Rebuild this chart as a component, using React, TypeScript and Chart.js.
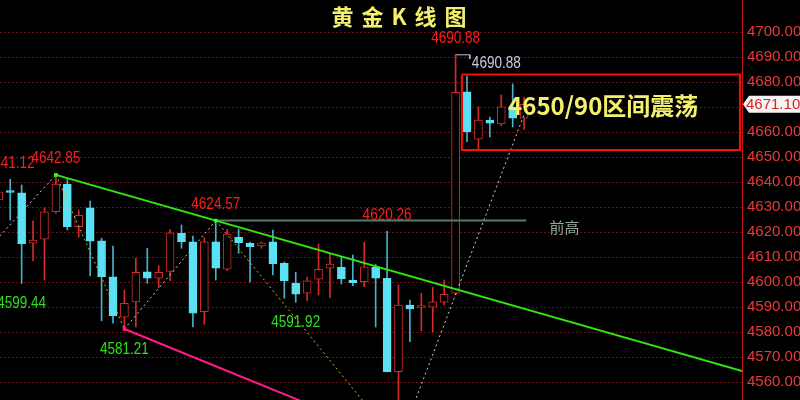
import React, { useEffect, useRef } from "react";
import { Chart, registerables } from "chart.js";

Chart.register(...registerables);

// Candles (one per bar, index = position on the time axis)
const opens = [
  4632.8, 4636.0, 4635.7, 4615.5, 4617.1, 4628.1, 4639.2, 4622.1, 4629.7, 4616.5,
  4602.1, 4585.9, 4592.0, 4604.1, 4601.5, 4604.2, 4619.5, 4616.1, 4588.1, 4616.1,
  4605.1, 4617.9, 4615.5, 4614.4, 4616.1, 4607.5, 4599.5, 4595.5, 4601.1, 4605.5,
  4605.9, 4600.8, 4600.1, 4605.9, 4601.5, 4564.1, 4590.8, 4589.8, 4589.9, 4591.9,
  4595.5, 4676.1, 4657.1, 4664.8, 4663.2, 4670.0, 4665.5,
];
const highs = [
  4638.0, 4641.12, 4638.8, 4624.5, 4629.7, 4642.85, 4641.0, 4628.8, 4632.4, 4617.5,
  4614.4, 4596.8, 4609.5, 4613.5, 4606.5, 4621.0, 4622.8, 4618.4, 4617.7, 4624.57,
  4621.1, 4621.2, 4616.0, 4616.0, 4620.8, 4608.0, 4603.9, 4602.0, 4615.2, 4611.5,
  4610.0, 4610.8, 4615.9, 4607.0, 4620.26, 4598.8, 4592.8, 4595.5, 4597.9, 4600.8,
  4690.88, 4682.4, 4670.1, 4666.0, 4674.8, 4679.2, 4674.0,
];
const lows = [
  4631.0, 4624.8, 4599.44, 4608.4, 4600.8, 4627.5, 4620.8, 4617.9, 4602.4, 4584.5,
  4583.5, 4581.21, 4582.0, 4599.5, 4597.7, 4600.5, 4613.5, 4582.0, 4583.0, 4600.8,
  4604.5, 4611.5, 4600.0, 4613.5, 4602.8, 4593.5, 4591.92, 4592.5, 4594.8, 4593.7,
  4599.2, 4598.5, 4598.1, 4582.0, 4564.0, 4535.0, 4576.1, 4580.5, 4580.0, 4590.8,
  4595.0, 4656.1, 4653.1, 4658.0, 4662.5, 4662.0, 4661.0,
];
const closes = [
  4636.1, 4635.8, 4615.3, 4616.8, 4628.1, 4639.2, 4622.1, 4626.7, 4616.3, 4602.1,
  4586.5, 4591.5, 4603.9, 4601.5, 4603.9, 4619.7, 4616.1, 4587.5, 4616.1, 4605.5,
  4619.2, 4615.7, 4614.1, 4615.7, 4607.2, 4600.4, 4595.1, 4600.5, 4605.1, 4607.2,
  4601.2, 4599.7, 4606.1, 4601.5, 4564.1, 4590.8, 4589.2, 4590.0, 4592.1, 4595.1,
  4675.9, 4660.1, 4664.8, 4663.5, 4670.1, 4665.5, 4671.1,
];

// Price axis
const yTicks = [4560, 4570, 4580, 4590, 4600, 4610, 4620, 4630, 4640, 4650, 4660, 4670, 4680, 4690, 4700];
const yMin = 4552.8;
const yMax = 4712.8;
const xMin = 0.105;
const xMax = 65.08;

// Pivot annotations: candle index + which extreme is labelled
const pivotNotes = [
  { i: 1, side: "high" },
  { i: 5, side: "high" },
  { i: 2, side: "low" },
  { i: 11, side: "low" },
  { i: 19, side: "high" },
  { i: 34, side: "high" },
  { i: 26, side: "low" },
  { i: 40, side: "high" },
];

// Swing legs (zig-zag)
const riseLegs = [
  [{ x: -2, y: 4608.0 }, { x: 5, y: 4642.85 }],
  [{ x: 11, y: 4581.21 }, { x: 19, y: 4624.57 }],
  [{ x: 35, y: 4535.0 }, { x: 46, y: 4667.0 }],
];
const fallLegs = [
  [{ x: 5, y: 4642.85 }, { x: 11, y: 4581.21 }],
  [{ x: 19, y: 4624.57 }, { x: 35, y: 4535.0 }],
];

// Trend lines
const resistanceLine = [{ x: 5, y: 4642.85 }, { x: 66, y: 4563.2 }];
const supportLine = [{ x: 11, y: 4581.21 }, { x: 30, y: 4545.8 }];
const priorHigh = 4624.57;
const priorHighSpan = [19, 46.2];

// Range box
const rangeTop = 4683.0;
const rangeBottom = 4652.8;
const rangeSpan = [40.55, 64.9];

const titleText = "黄金K线图";
const rangeText = "4650/90区间震荡";
const priorHighText = "前高";

const RED = "#d42a2a";
const CYAN = "#5ae1f4";
const CYAN_WICK = "#46b2ca";
const LABEL_RED = "#ff1e1e";
const LABEL_GREEN = "#2ee01e";
const YELLOW = "#f5f06c";
const NUM_FONT = '"Liberation Sans", Arial, sans-serif';
const CJK_FONT = '"Noto Sans CJK SC", "Noto Sans", sans-serif';

const joinLegs = (legs: { x: number; y: number | null }[][]) => {
  const out: { x: number; y: number | null }[] = [];
  legs.forEach((leg, k) => {
    if (k > 0) out.push({ x: leg[0].x, y: null });
    out.push(...leg);
  });
  return out;
};

const drawNarrow = (
  ctx: CanvasRenderingContext2D,
  text: string,
  x: number,
  y: number,
  color: string,
  align: CanvasTextAlign
) => {
  ctx.save();
  ctx.translate(x, y);
  ctx.scale(0.82, 1);
  ctx.font = `16.5px ${NUM_FONT}`;
  ctx.fillStyle = color;
  ctx.textAlign = align;
  ctx.textBaseline = "middle";
  ctx.fillText(text, 0, 0);
  ctx.restore();
};

const overlayPlugin = {
  id: "overlay",
  beforeDraw(chart: any) {
    const { ctx, width, height } = chart;
    ctx.save();
    ctx.fillStyle = "#000";
    ctx.fillRect(0, 0, width, height);
    ctx.restore();
  },
  afterDatasetsDraw(chart: any) {
    const { ctx } = chart;
    const xs = chart.scales.x;
    const ys = chart.scales.y;

    // pivot value labels
    pivotNotes.forEach((p) => {
      const v = p.side === "high" ? highs[p.i] : lows[p.i];
      const px = xs.getPixelForValue(p.i);
      const py = ys.getPixelForValue(v) + (p.side === "high" ? -16 : 20);
      drawNarrow(ctx, v.toFixed(2), px, py, p.side === "high" ? LABEL_RED : LABEL_GREEN, "center");
    });

    // high of the breakout candle, with its leader
    const peak = highs[40];
    drawNarrow(ctx, peak.toFixed(2), xs.getPixelForValue(41.25) + 2, ys.getPixelForValue(peak) + 9, "#c6cee2", "left");

    // "前高" tag at the end of the prior-high line
    ctx.save();
    ctx.font = `15px ${CJK_FONT}`;
    ctx.fillStyle = "#8fa99b";
    ctx.textAlign = "left";
    ctx.textBaseline = "middle";
    ctx.fillText(priorHighText, xs.getPixelForValue(priorHighSpan[1]) + 23, ys.getPixelForValue(priorHigh) + 7);
    ctx.restore();

    // range comment
    ctx.save();
    ctx.font = `bold 24px ${CJK_FONT}`;
    ctx.fillStyle = YELLOW;
    ctx.textAlign = "left";
    ctx.textBaseline = "middle";
    ctx.fillText(rangeText, xs.getPixelForValue(44.6), ys.getPixelForValue((rangeTop + rangeBottom) / 2) - 6);
    ctx.restore();

    // title
    ctx.save();
    ctx.font = `bold 22px ${CJK_FONT}`;
    ctx.fillStyle = YELLOW;
    ctx.textAlign = "left";
    ctx.textBaseline = "middle";
    const chars = Array.from(titleText);
    const gap = 8;
    const total = chars.reduce((s, c) => s + ctx.measureText(c).width, 0) + gap * (chars.length - 1);
    let tx = 399 - total / 2;
    chars.forEach((c) => {
      ctx.fillText(c, tx, 17);
      tx += ctx.measureText(c).width + gap;
    });
    ctx.restore();
  },
  afterDraw(chart: any) {
    const { ctx } = chart;
    const ys = chart.scales.y;
    const last = closes[closes.length - 1];
    const py = ys.getPixelForValue(last);
    const left = ys.left + 1;
    ctx.save();
    ctx.beginPath();
    ctx.moveTo(left, py);
    ctx.lineTo(left + 6, py - 8.5);
    ctx.lineTo(800, py - 8.5);
    ctx.lineTo(800, py + 8.5);
    ctx.lineTo(left + 6, py + 8.5);
    ctx.closePath();
    ctx.fillStyle = "#f4f4f4";
    ctx.fill();
    ctx.font = `15px ${NUM_FONT}`;
    ctx.fillStyle = "#e02020";
    ctx.textAlign = "left";
    ctx.textBaseline = "middle";
    ctx.fillText(last.toFixed(2), left + 3, py + 0.5);
    ctx.restore();
  },
};

export default function App() {
  const canvasRef = useRef<HTMLCanvasElement | null>(null);

  useEffect(() => {
    if (!canvasRef.current) return;
    const idx = opens.map((_, i) => i);
    const up = idx.map((i) => closes[i] >= opens[i]);
    const lastClose = closes[closes.length - 1];

    const lineDefaults = {
      type: "line" as const,
      pointRadius: 0,
      tension: 0,
      fill: false,
      spanGaps: false,
    };

    const chart = new Chart(canvasRef.current, {
      type: "bar",
      data: {
        datasets: [
          {
            label: "wick",
            data: idx.map((i) => ({ x: i, y: [lows[i], highs[i]] })) as any,
            backgroundColor: idx.map((i) => (up[i] ? RED : CYAN_WICK)),
            barThickness: 1,
            borderWidth: 0,
            grouped: false,
            order: 10,
          },
          {
            label: "body",
            data: idx.map((i) => ({ x: i, y: [opens[i], closes[i]] })) as any,
            backgroundColor: idx.map((i) => (up[i] ? "#000" : CYAN)),
            borderColor: idx.map((i) => (up[i] ? RED : CYAN)),
            borderWidth: 1,
            borderSkipped: false,
            barThickness: 8,
            minBarLength: 2,
            grouped: false,
            order: 9,
          },
          {
            ...lineDefaults,
            label: "rise",
            data: joinLegs(riseLegs) as any,
            borderColor: "#cfcfcf",
            borderWidth: 1,
            borderDash: [2, 3],
            order: 8,
          },
          {
            ...lineDefaults,
            label: "fall",
            data: joinLegs(fallLegs) as any,
            borderColor: "#c2b82a",
            borderWidth: 1,
            borderDash: [2, 3],
            order: 8,
          },
          {
            ...lineDefaults,
            label: "priorHigh",
            data: [
              { x: priorHighSpan[0], y: priorHigh },
              { x: priorHighSpan[1], y: priorHigh },
            ],
            borderColor: "#587868",
            borderWidth: 2,
            order: 7,
          },
          {
            ...lineDefaults,
            label: "resistance",
            data: resistanceLine,
            borderColor: "#2fe80e",
            borderWidth: 2,
            order: 6,
          },
          {
            ...lineDefaults,
            label: "support",
            data: supportLine,
            borderColor: "#ff1a8c",
            borderWidth: 2,
            order: 6,
          },
          {
            ...lineDefaults,
            label: "range",
            data: [
              { x: rangeSpan[0], y: rangeTop },
              { x: rangeSpan[1], y: rangeTop },
              { x: rangeSpan[1], y: rangeBottom },
              { x: rangeSpan[0], y: rangeBottom },
              { x: rangeSpan[0], y: rangeTop },
            ],
            borderColor: "#ff0a0a",
            borderWidth: 2,
            order: 5,
          },
          {
            ...lineDefaults,
            label: "leader",
            data: [
              { x: 40, y: highs[40] },
              { x: 41.25, y: highs[40] },
              { x: 41.25, y: highs[40] - 1.6 },
            ],
            borderColor: "#b8c0d2",
            borderWidth: 1,
            order: 5,
          },
          {
            type: "line",
            label: "pivots",
            data: [
              { x: 5, y: highs[5] },
              { x: 19, y: highs[19] },
              { x: 11, y: lows[11] },
            ],
            showLine: false,
            pointStyle: "rect",
            pointRadius: 2.6,
            pointBackgroundColor: ["#33ff11", "#33ff11", "#ff1a8c"],
            pointBorderWidth: 0,
            order: 4,
          },
        ] as any,
      },
      options: {
        responsive: false,
        animation: false,
        events: [],
        layout: { padding: 0, autoPadding: false },
        plugins: {
          legend: { display: false },
          tooltip: { enabled: false },
          title: { display: false },
        },
        scales: {
          x: {
            type: "linear",
            min: xMin,
            max: xMax,
            offset: false,
            display: false,
          },
          y: {
            position: "right",
            min: yMin,
            max: yMax,
            afterBuildTicks: (s: any) => {
              s.ticks = yTicks.map((v) => ({ value: v }));
            },
            afterFit: (s: any) => {
              s.width = 58;
              s.paddingTop = 0;
              s.paddingBottom = 0;
            },
            ticks: {
              color: "#e83a3a",
              font: { family: NUM_FONT, size: 15 },
              padding: 5,
              callback: (v: any) => (Math.abs(Number(v) - lastClose) < 4 ? "" : Number(v).toFixed(2)),
            },
            grid: {
              color: "#6e0d0d",
              lineWidth: 1,
              drawTicks: false,
            },
            border: {
              display: true,
              color: "#c41414",
              width: 1,
              dash: [2, 2],
            },
          },
        },
      } as any,
      plugins: [overlayPlugin],
    });

    return () => chart.destroy();
  }, []);

  return (
    <div style={{ position: "fixed", left: 0, top: 0, width: 800, height: 400, background: "#000" }}>
      <canvas ref={canvasRef} width={800} height={400} style={{ display: "block" }} />
    </div>
  );
}
